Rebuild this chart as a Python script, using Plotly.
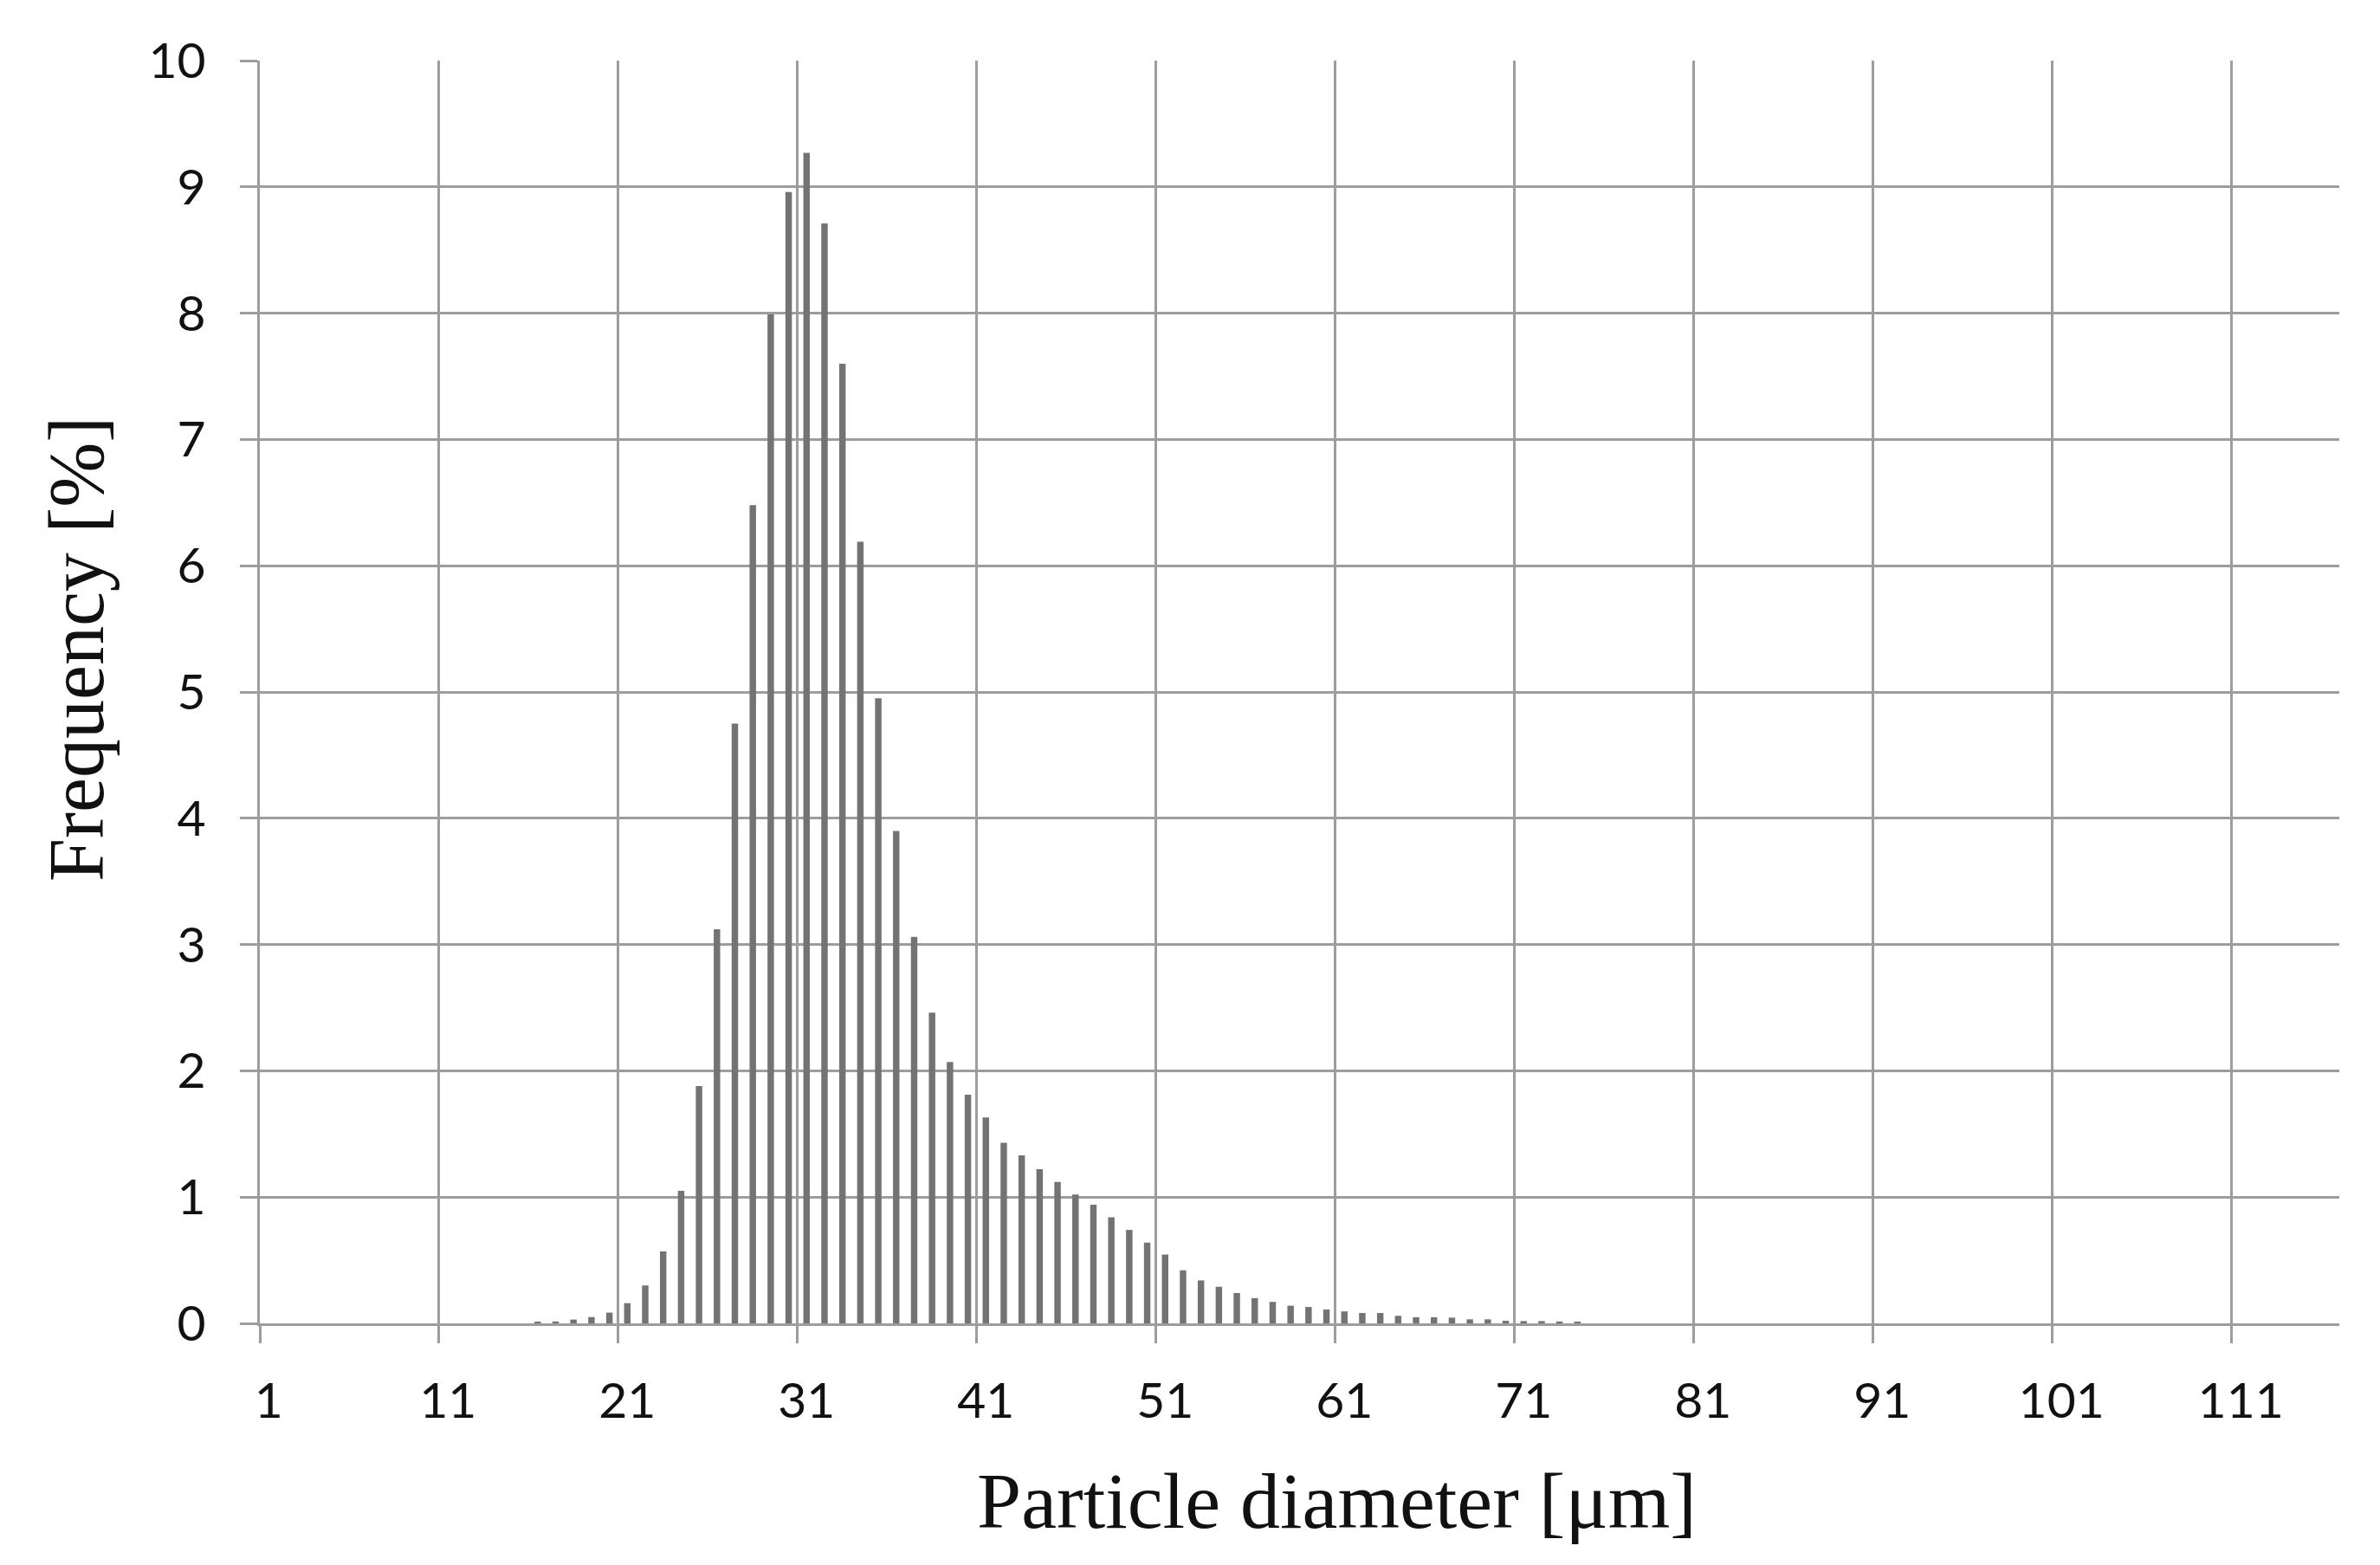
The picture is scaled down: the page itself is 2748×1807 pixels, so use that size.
import plotly.graph_objects as go

# Particle diameter classes (µm) shown as classes 1..116
diameters = list(range(1, 117))

# Frequency [%]
freq_leading_zeros = [0.0] * 15          # classes 1..15
freq_main = [                              # classes 16..74
    0.010, 0.015, 0.030, 0.050, 0.085, 0.16, 0.30, 0.57, 1.05, 1.88,
    3.12, 4.75, 6.48, 7.99, 8.96, 9.27, 8.71, 7.60, 6.19, 4.95,
    3.90, 3.06, 2.46, 2.07, 1.81, 1.63, 1.43, 1.33, 1.22, 1.12,
    1.02, 0.94, 0.84, 0.74, 0.64, 0.545, 0.42, 0.34, 0.29, 0.24,
    0.20, 0.17, 0.14, 0.13, 0.11, 0.095, 0.082, 0.082, 0.060, 0.048,
    0.048, 0.045, 0.032, 0.032, 0.020, 0.018, 0.018, 0.015, 0.010,
]
freq_trailing_zeros = [0.0] * 42         # classes 75..116
frequency = freq_leading_zeros + freq_main + freq_trailing_zeros

x_label_vals = [1, 11, 21, 31, 41, 51, 61, 71, 81, 91, 101, 111]
x_label_text = ["1", "11", "21", "31", "41", "51", "61", "71", "81", "91", "101", "111"]
# category boundaries (left edge of each labelled class) for ticks / gridlines
x_boundaries = [v - 0.5 for v in x_label_vals]
y_ticks = list(range(0, 11))

GRID = "#9d9d9d"
BAR = "#737373"
TEXT = "#111111"

fig = go.Figure()
fig.add_trace(go.Bar(
    x=diameters, y=frequency,
    marker=dict(color=BAR, line=dict(width=0)),
    showlegend=False,
))

fig.update_layout(
    width=2748, height=1807,
    margin=dict(l=292, r=55, t=62, b=287, autoexpand=False),
    paper_bgcolor="white", plot_bgcolor="white",
    bargap=0.64,
    font=dict(family="Lato, 'Open Sans', sans-serif", size=57, color=TEXT),
    xaxis=dict(
        range=[0.5, 116.5],
        tickmode="array", tickvals=x_label_vals, ticktext=x_label_text,
        tickangle=0,
        showgrid=False, ticks="",
        minor=dict(tickmode="array", tickvals=x_boundaries,
                   showgrid=True, gridcolor=GRID, gridwidth=3,
                   ticks="outside", ticklen=20, tickwidth=3, tickcolor=GRID),
        showline=True, linecolor=GRID, linewidth=3,
        tickfont=dict(size=57, color=TEXT),
        ticklabelstandoff=38,
        zeroline=False, automargin=False,
    ),
    yaxis=dict(
        range=[0, 10], tickvals=y_ticks,
        showgrid=True, gridcolor=GRID, gridwidth=3,
        showline=True, linecolor=GRID, linewidth=3,
        ticks="outside", ticklen=20, tickwidth=3, tickcolor=GRID,
        tickfont=dict(size=57, color=TEXT),
        ticklabelstandoff=28,
        zeroline=False, automargin=False,
    ),
    annotations=[
        dict(text="Frequency [%]", xref="paper", yref="paper",
             x=0, y=0.5336, xanchor="center", yanchor="middle",
             xshift=-212, textangle=-90, showarrow=False,
             font=dict(family="'Liberation Serif', 'DejaVu Serif', serif", size=90, color=TEXT)),
        dict(text="Particle diameter [μm]", xref="paper", yref="paper",
             x=0.518, y=0, xanchor="center", yanchor="middle",
             yshift=-205, showarrow=False,
             font=dict(family="'Liberation Serif', 'DejaVu Serif', serif", size=92, color=TEXT)),
    ],
)

fig.write_html("out.html")
